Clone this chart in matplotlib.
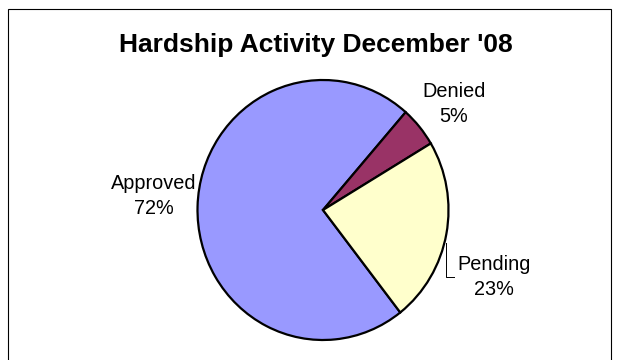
import matplotlib
matplotlib.use('Agg')
import matplotlib.pyplot as plt
from matplotlib.patches import Rectangle

plt.rcParams['font.family'] = ['Liberation Sans', 'DejaVu Sans']

# data
categories = ['Approved', 'Denied', 'Pending']
shares = [72, 5, 23]
colors = ['#9999FF', '#993366', '#FFFFCC']

fig = plt.figure(figsize=(6.18, 3.6), dpi=100)

# outer chart frame (bottom edge falls outside the picture)
fig.patches.append(Rectangle((8 / 618, -0.05), 603 / 618, 1.0 - 9 / 360 + 0.05,
                             transform=fig.transFigure, fill=False,
                             edgecolor='black', linewidth=0.8))

fig.text(316 / 618, 1 - 52 / 360, "Hardship Activity December '08",
         ha='center', va='baseline', fontsize=19, fontweight='bold')

ax = fig.add_axes([(323 - 125.5) / 618, (150 - 130) / 360, 251 / 618, 260 / 360])
wedges, _ = ax.pie(shares, colors=colors, startangle=308, counterclock=False,
                   wedgeprops=dict(edgecolor='black', linewidth=1.6))
ax.set_aspect('auto')
ax.set_xlim(-1, 1)
ax.set_ylim(-1, 1)

# label positions (axes data units), Excel-style placement
label_pos = [(-1.347, 0.104), (1.044, 0.819), (1.363, -0.519)]
for name, val, (x, y) in zip(categories, shares, label_pos):
    ax.text(x, y, f'{name}\n{val}%', ha='center', va='center',
            fontsize=14.3, linespacing=1.4, clip_on=False)

# leader line for Pending
ax.plot([0.98, 0.98, 1.044], [-0.25, -0.515, -0.515], color='black',
        linewidth=0.7, clip_on=False)

fig.savefig('out.png', dpi=100)
